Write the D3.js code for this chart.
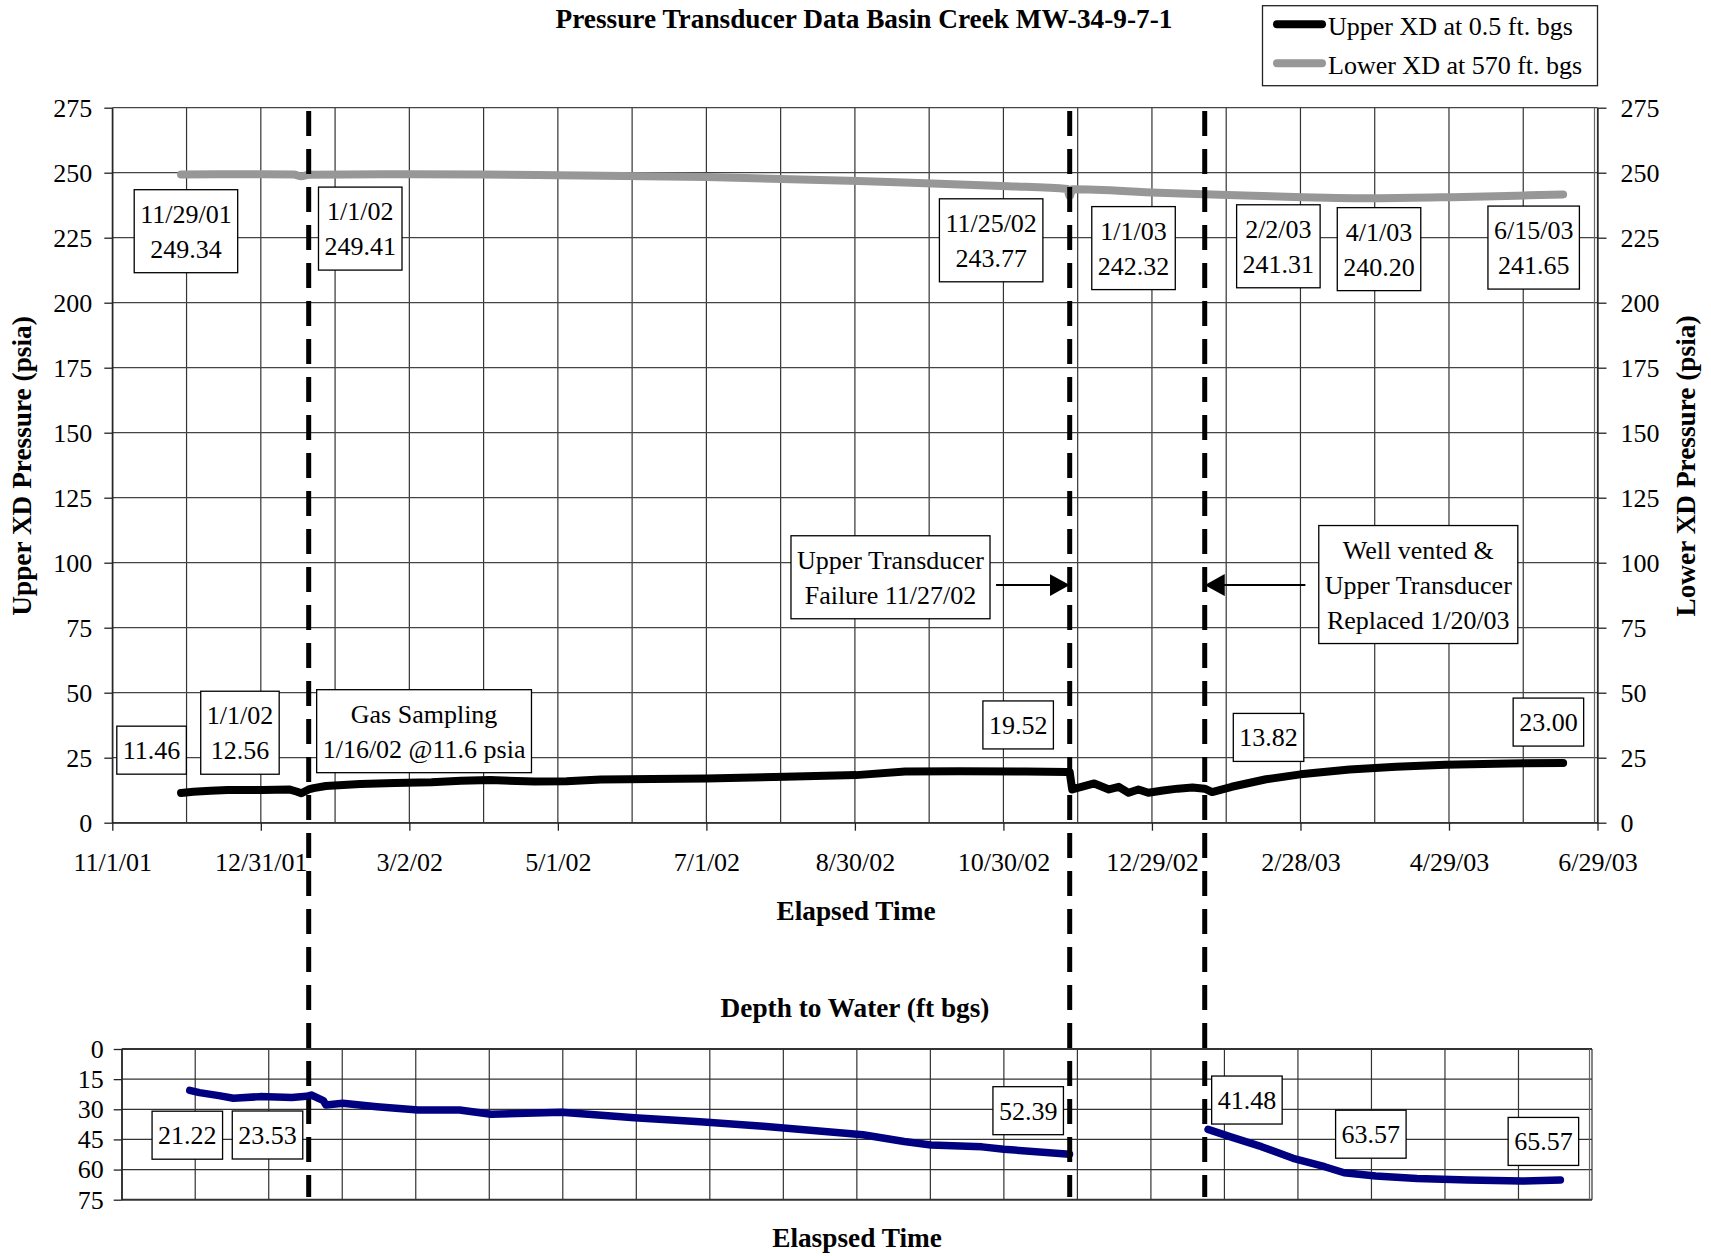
<!DOCTYPE html>
<html>
<head>
<meta charset="utf-8">
<script src="https://cdn.jsdelivr.net/npm/d3@7"></script>
<style>
  body { margin: 0; background: #fff; }
  text { font-family: "Liberation Serif", "Times New Roman", serif; }
</style>
</head>
<body>
<div id="chart"></div>
<script>
// ---- data ----
const xTickLabels = ["11/1/01", "12/31/01", "3/2/02", "5/1/02", "7/1/02", "8/30/02",
                     "10/30/02", "12/29/02", "2/28/03", "4/29/03", "6/29/03"];
const pressureTicks = [0, 25, 50, 75, 100, 125, 150, 175, 200, 225, 250, 275];
const depthTicks = [0, 15, 30, 45, 60, 75];

// upper transducer (0.5 ft bgs), psia
const upperDates = ["11/29/01", "12/4/01", "12/11/01", "12/18/01", "1/1/02", "1/12/02", "1/15/02",
  "1/17/02", "1/20/02", "1/22/02", "1/27/02", "2/10/02", "2/24/02", "3/11/02", "3/23/02", "4/4/02",
  "4/22/02", "5/5/02", "5/19/02", "6/9/02", "7/1/02", "8/2/02", "8/31/02", "9/20/02", "10/12/02",
  "11/8/02", "11/25/02", "11/26/02", "11/27/02", "12/6/02", "12/12/02", "12/16/02", "12/20/02",
  "12/24/02", "12/28/02", "1/3/03", "1/9/03", "1/15/03", "1/20/03", "1/23/03", "1/31/03",
  "2/14/03", "2/28/03", "3/20/03", "4/8/03", "4/28/03", "5/24/03", "6/15/03"];
const upperPsia = [11.46, 11.9, 12.3, 12.6, 12.56, 12.8, 12.0,
  11.3, 12.8, 13.3, 14.1, 14.9, 15.3, 15.6, 16.1, 16.4,
  15.8, 15.9, 16.6, 16.8, 17.0, 17.7, 18.3, 19.7, 19.8,
  19.7, 19.52, 19.4, 12.8, 15.1, 12.8, 13.8, 11.5,
  12.8, 11.5, 12.4, 13.1, 13.5, 13.1, 11.8, 13.82,
  16.7, 18.6, 20.5, 21.5, 22.3, 22.8, 23.0];

// lower transducer (570 ft bgs), psia
const lowerDates = ["11/29/01", "1/1/02", "1/14/02", "1/17/02", "1/20/02", "3/1/02", "4/1/02",
  "5/1/02", "7/1/02", "9/1/02", "10/1/02", "11/1/02", "11/25/02", "11/26/02", "11/27/02",
  "1/1/03", "1/20/03", "2/2/03", "3/1/03", "4/1/03", "5/1/03", "6/1/03", "6/15/03"];
const lowerPsia = [249.34, 249.41, 249.3, 248.6, 249.2, 249.4, 249.3,
  249.0, 248.3, 246.8, 245.8, 244.8, 243.77, 241.0, 243.6,
  242.32, 241.7, 241.31, 240.6, 240.2, 240.6, 241.3, 241.65];

// depth to water, ft bgs (null = no reading)
const depthDates = ["11/29/01", "12/3/01", "12/11/01", "12/17/01", "12/28/01", "1/10/02", "1/16/02",
  "1/18/02", "1/23/02", "1/24/02", "1/31/02", "2/14/02", "3/3/02", "3/20/02", "4/2/02", "5/1/02",
  "5/31/02", "6/27/02", "7/23/02", "9/2/02", "9/19/02", "9/30/02", "10/21/02", "10/30/02",
  "11/26/02", "12/20/02", "1/22/03", "1/31/03", "2/13/03", "2/26/03", "3/11/03", "3/19/03",
  "4/1/03", "4/18/03", "5/9/03", "5/31/03", "6/16/03"];
const depthFt = [20.6, 21.7, 23.2, 24.5, 23.7, 24.1, 23.53,
  22.9, 25.7, 27.9, 27.0, 28.7, 30.4, 30.4, 32.5, 31.5,
  34.2, 36.2, 38.4, 42.7, 46.0, 47.8, 48.7, 49.9,
  52.39, null, 40.0, 43.6, 48.6, 54.4, 58.6, 61.6,
  63.2, 64.4, 65.2, 65.7, 65.2];

// gas sampling, transducer failure, transducer replaced
const eventDates = ["1/20/02", "11/26/02", "1/20/03"];

// call-out boxes: lines of text, anchored at a date and a value
const pressureNotes = [
  { lines: ["11/29/01", "249.34"], date: "12/1/01", value: 227.5 },
  { lines: ["1/1/02", "249.41"], date: "2/10/02", value: 228.5 },
  { lines: ["11/25/02", "243.77"], date: "10/25/02", value: 224 },
  { lines: ["1/1/03", "242.32"], date: "12/22/02", value: 221 },
  { lines: ["2/2/03", "241.31"], date: "2/19/03", value: 221.7 },
  { lines: ["4/1/03", "240.20"], date: "4/1/03", value: 220.6 },
  { lines: ["6/15/03", "241.65"], date: "6/3/03", value: 221.2 },
  { lines: ["11.46"], date: "11/17/01", value: 27.9 },
  { lines: ["1/1/02", "12.56"], date: "12/23/01", value: 34.6 },
  { lines: ["Gas Sampling", "1/16/02 @11.6 psia"], date: "3/8/02", value: 35.2 },
  { lines: ["19.52"], date: "11/5/02", value: 37.6 },
  { lines: ["13.82"], date: "2/15/03", value: 32.8 },
  { lines: ["23.00"], date: "6/9/03", value: 38.7 },
  { lines: ["Upper Transducer", "Failure 11/27/02"], date: "9/14/02", value: 94.4 },
  { lines: ["Well vented &", "Upper Transducer", "Replaced 1/20/03"], date: "4/17/03", value: 91.6 }
];
const depthNotes = [
  { lines: ["21.22"], date: "11/28/01", value: 42.9 },
  { lines: ["23.53"], date: "12/31/01", value: 42.8 },
  { lines: ["52.39"], date: "11/9/02", value: 30.7 },
  { lines: ["41.48"], date: "2/7/03", value: 25.4 },
  { lines: ["63.57"], date: "3/30/03", value: 42.4 },
  { lines: ["65.57"], date: "6/9/03", value: 46 }
];
// arrows from the notes to the event lines
const arrows = [
  { from: "10/27/02", to: "11/26/02", value: 91.4 },
  { from: "3/2/03", to: "1/20/03", value: 91.4 }
];

// ---- drawing ----
const W = 1711, H = 1256;
const FONT = 26, BOLD = 27.3;
const parse = d3.timeParse("%m/%d/%y");
const t0 = new Date(2001, 10, 1), t1 = new Date(2003, 5, 29);
const dayAt = n => new Date(t0.getTime() + n * 864e5);

const upper = upperDates.map((d, i) => ({ date: parse(d), v: upperPsia[i] }));
const lower = lowerDates.map((d, i) => ({ date: parse(d), v: lowerPsia[i] }));
const depth = depthDates.map((d, i) => ({ date: parse(d), v: depthFt[i] }));

const svg = d3.select('#chart').append('svg')
    .attr('width', W)
    .attr('height', H);

// scales: pressure chart on top, depth chart below
const x = d3.scaleTime().domain([t0, t1]).range([112.3, 1597.5]);
const yP = d3.scaleLinear().domain([0, 275]).range([822.7, 107.7]);
const xB = d3.scaleTime().domain([t0, t1]).range([121.7, 1592]);
const yD = d3.scaleLinear().domain([0, 75]).range([1049, 1199.7]);

const majorTicks = d3.range(11).map(i => dayAt(i * 60.5));
const minorTicks = d3.range(21).map(i => dayAt(i * 30.25));

function styleAxis(g){
    g.attr('font-family', '"Liberation Serif", "Times New Roman", serif')
     .attr('font-size', FONT);
    g.selectAll('line, path').attr('stroke', '#222').attr('stroke-width', 1.3);
    g.selectAll('text').attr('fill', '#000');
}

// grid of the pressure chart
const gridTop = svg.append('g');
gridTop.selectAll('line.v').data(minorTicks).enter().append('line')
    .attr('x1', d => x(d)).attr('x2', d => x(d))
    .attr('y1', yP(275)).attr('y2', yP(0))
    .attr('stroke', '#333').attr('stroke-width', 1.2);
gridTop.selectAll('line.h').data(pressureTicks).enter().append('line')
    .attr('x1', x.range()[0]).attr('x2', x.range()[1])
    .attr('y1', d => yP(d)).attr('y2', d => yP(d))
    .attr('stroke', '#444').attr('stroke-width', 1.2);
// second rule on the right edge
gridTop.append('line')
    .attr('x1', x.range()[1] - 3).attr('x2', x.range()[1] - 3)
    .attr('y1', yP(275)).attr('y2', yP(0))
    .attr('stroke', '#666').attr('stroke-width', 1.2);

svg.append('g')
    .attr('transform', `translate(${x.range()[0]},0)`)
    .call(d3.axisLeft(yP).tickValues(pressureTicks).tickSize(8).tickSizeOuter(0).tickPadding(12))
    .call(styleAxis);
svg.append('g')
    .attr('transform', `translate(${x.range()[1]},0)`)
    .call(d3.axisRight(yP).tickValues(pressureTicks).tickSize(9).tickSizeOuter(0).tickPadding(14))
    .call(styleAxis);
svg.append('g')
    .attr('transform', `translate(0,${yP(0)})`)
    .call(d3.axisBottom(x).tickValues(majorTicks).tickFormat((d, i) => xTickLabels[i])
        .tickSize(8).tickSizeOuter(0).tickPadding(22))
    .call(styleAxis);

// grid of the depth chart
const gridBot = svg.append('g');
gridBot.selectAll('line.v').data(minorTicks).enter().append('line')
    .attr('x1', d => xB(d)).attr('x2', d => xB(d))
    .attr('y1', yD(0)).attr('y2', yD(75))
    .attr('stroke', '#333').attr('stroke-width', 1.2);
gridBot.selectAll('line.h').data(depthTicks).enter().append('line')
    .attr('x1', xB.range()[0]).attr('x2', xB.range()[1])
    .attr('y1', d => yD(d)).attr('y2', d => yD(d))
    .attr('stroke', '#333').attr('stroke-width', d => (d === 0 || d === 75) ? 2 : 1.2);
gridBot.append('line')
    .attr('x1', xB.range()[1] - 2.5).attr('x2', xB.range()[1] - 2.5)
    .attr('y1', yD(0)).attr('y2', yD(75))
    .attr('stroke', '#666').attr('stroke-width', 1.2);
svg.append('g')
    .attr('transform', `translate(${xB.range()[0]},0)`)
    .call(d3.axisLeft(yD).tickValues(depthTicks).tickSize(8).tickSizeOuter(0).tickPadding(10))
    .call(styleAxis);

// call-out boxes
function drawNotes(notes, xs, ys){
    notes.forEach(n => {
        const cx = xs(parse(n.date)), cy = ys(n.value);
        const g = svg.append('g');
        const rect = g.append('rect').attr('fill', '#fff').attr('stroke', '#000').attr('stroke-width', 1.3);
        const lh = 35;
        const txt = g.append('text').attr('font-size', FONT).attr('text-anchor', 'middle');
        n.lines.forEach((l, i) => {
            txt.append('tspan')
                .attr('x', cx)
                .attr('y', cy - (n.lines.length - 1) * lh / 2 + i * lh + 9)
                .text(l);
        });
        let wmax = 0;
        txt.selectAll('tspan').each(function(){ wmax = Math.max(wmax, this.getComputedTextLength()); });
        const bw = wmax + 12, bh = n.lines.length * lh + 13;
        rect.attr('x', cx - bw / 2).attr('y', cy - bh / 2).attr('width', bw).attr('height', bh);
    });
}
drawNotes(pressureNotes, x, yP);
drawNotes(depthNotes, xB, yD);

// data lines
svg.append('path').datum(lower)
    .attr('d', d3.line().x(d => x(d.date)).y(d => yP(d.v)).curve(d3.curveMonotoneX))
    .attr('fill', 'none').attr('stroke', '#979797').attr('stroke-width', 8)
    .attr('stroke-linejoin', 'round').attr('stroke-linecap', 'round');
svg.append('path').datum(upper)
    .attr('d', d3.line().x(d => x(d.date)).y(d => yP(d.v)))
    .attr('fill', 'none').attr('stroke', '#000').attr('stroke-width', 8)
    .attr('stroke-linejoin', 'round').attr('stroke-linecap', 'round');
svg.append('path').datum(depth)
    .attr('d', d3.line().defined(d => d.v != null).x(d => xB(d.date)).y(d => yD(d.v)))
    .attr('fill', 'none').attr('stroke', '#000080').attr('stroke-width', 7.5)
    .attr('stroke-linejoin', 'round').attr('stroke-linecap', 'round');

// event lines through both charts
svg.selectAll('line.event').data(eventDates).enter().append('line')
    .attr('x1', d => x(parse(d))).attr('x2', d => x(parse(d)))
    .attr('y1', 111).attr('y2', 1197)
    .attr('stroke', '#000').attr('stroke-width', 5)
    .attr('stroke-dasharray', '25,13');

// arrows
svg.append('defs').append('marker')
    .attr('id', 'head').attr('markerUnits', 'userSpaceOnUse')
    .attr('markerWidth', 20).attr('markerHeight', 22)
    .attr('refX', 20).attr('refY', 11).attr('orient', 'auto')
    .append('path').attr('d', 'M0,0 L20,11 L0,22 Z').attr('fill', '#000');
svg.selectAll('line.arrow').data(arrows).enter().append('line')
    .attr('x1', d => x(parse(d.from))).attr('x2', d => x(parse(d.to)))
    .attr('y1', d => yP(d.value)).attr('y2', d => yP(d.value))
    .attr('stroke', '#000').attr('stroke-width', 2)
    .attr('marker-end', 'url(#head)');

// legend
const lg = svg.append('g');
lg.append('rect').attr('x', 1262.5).attr('y', 5.7).attr('width', 335).attr('height', 80)
    .attr('fill', '#fff').attr('stroke', '#222').attr('stroke-width', 1.3);
const legendItems = [
    { label: "Upper XD at 0.5 ft. bgs", color: '#000' },
    { label: "Lower XD at 570 ft. bgs", color: '#979797' }
];
legendItems.forEach((it, i) => {
    const yy = 24.3 + i * 39;
    lg.append('line').attr('x1', 1277).attr('x2', 1322).attr('y1', yy).attr('y2', yy)
        .attr('stroke', it.color).attr('stroke-width', 8).attr('stroke-linecap', 'round');
    lg.append('text').attr('x', 1328).attr('y', yy + 10.5).attr('font-size', FONT).text(it.label);
});

// titles
svg.append('text').attr('x', 864).attr('y', 28).attr('text-anchor', 'middle')
    .attr('font-size', BOLD).attr('font-weight', 'bold')
    .text('Pressure Transducer Data Basin Creek MW-34-9-7-1');
svg.append('text').attr('x', 856).attr('y', 920).attr('text-anchor', 'middle')
    .attr('font-size', BOLD).attr('font-weight', 'bold').text('Elapsed Time');
svg.append('text').attr('x', 855).attr('y', 1017).attr('text-anchor', 'middle')
    .attr('font-size', BOLD).attr('font-weight', 'bold').text('Depth to Water (ft bgs)');
svg.append('text').attr('x', 857).attr('y', 1247).attr('text-anchor', 'middle')
    .attr('font-size', BOLD).attr('font-weight', 'bold').text('Elaspsed Time');
svg.append('text').attr('transform', 'translate(31,466) rotate(-90)').attr('text-anchor', 'middle')
    .attr('font-size', BOLD).attr('font-weight', 'bold').text('Upper XD Pressure (psia)');
svg.append('text').attr('transform', 'translate(1695,466) rotate(-90)').attr('text-anchor', 'middle')
    .attr('font-size', BOLD).attr('font-weight', 'bold').text('Lower XD Pressure (psia)');
</script>
</body>
</html>
